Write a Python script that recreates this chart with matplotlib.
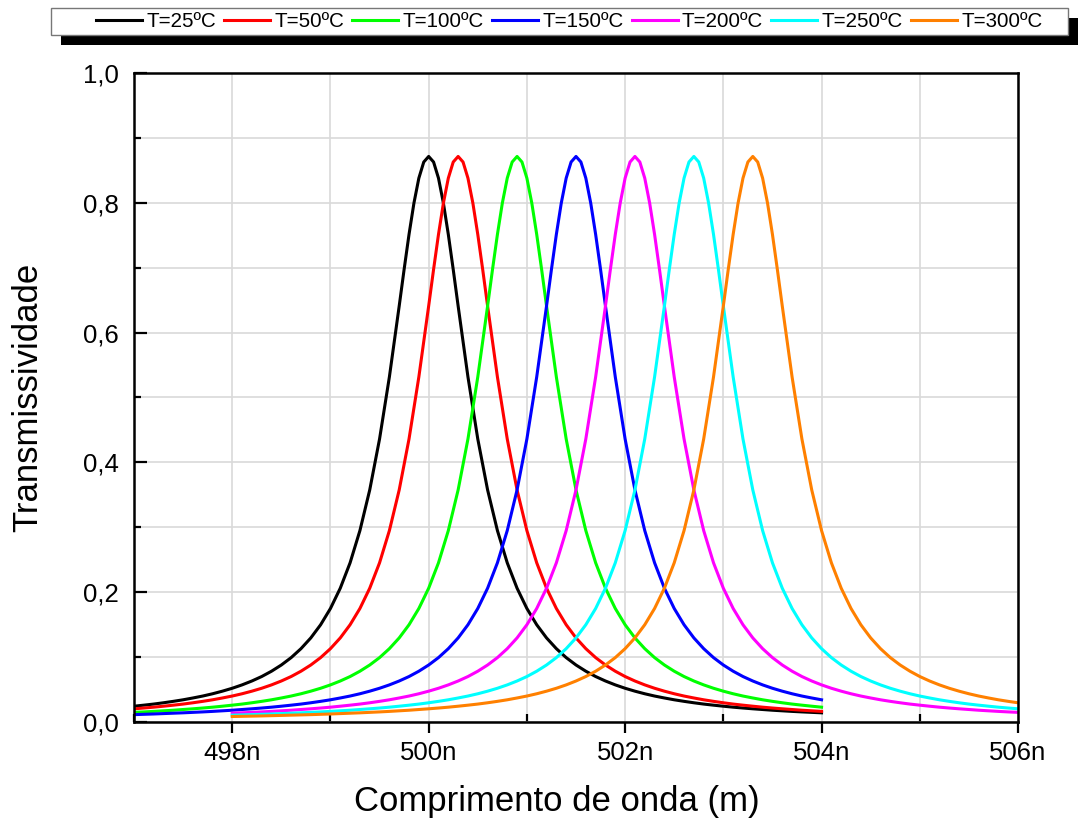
import numpy as np
import matplotlib.pyplot as plt
from matplotlib.patches import Rectangle
from matplotlib.ticker import MultipleLocator

plt.rcParams['font.family'] = ['Liberation Sans', 'DejaVu Sans']


def malha(a, b, passo=0.1):
    # pontos de leitura do comprimento de onda (nm)
    return np.round(np.arange(a, b + passo / 2, passo), 2)


# comprimento de onda (nm) e transmissividade
wl_25 = np.r_[malha(497.0, 499.6), malha(499.7, 500.3, 0.05), malha(500.4, 504.0)]
tr_25 = [0.0236, 0.0252, 0.0269, 0.0289, 0.0311, 0.0335, 0.0363, 0.0393, 0.0428, 0.0468,
         0.0513, 0.0565, 0.0625, 0.0694, 0.0776, 0.0872, 0.0986, 0.1124, 0.1290, 0.1493,
         0.1744, 0.2057, 0.2449, 0.2946, 0.3574, 0.4360, 0.5317,
         0.6412, 0.6976, 0.7517, 0.8000, 0.8385, 0.8634, 0.872, 0.8634, 0.8385, 0.8000, 0.7517, 0.6976, 0.6412,
         0.5317, 0.4360, 0.3574, 0.2946, 0.2449, 0.2057, 0.1744, 0.1493, 0.1290, 0.1124,
         0.0986, 0.0872, 0.0776, 0.0694, 0.0625, 0.0565, 0.0513, 0.0468, 0.0428, 0.0393,
         0.0363, 0.0335, 0.0311, 0.0289, 0.0269, 0.0252, 0.0236, 0.0221, 0.0208, 0.0196,
         0.0185, 0.0174, 0.0165, 0.0156, 0.0148, 0.0141, 0.0134]

wl_50 = np.r_[malha(497.0, 499.9), malha(500.0, 500.6, 0.05), malha(500.7, 504.0)]
tr_50 = [0.0196, 0.0208, 0.0221,
         0.0236, 0.0252, 0.0269, 0.0289, 0.0311, 0.0335, 0.0363, 0.0393, 0.0428, 0.0468,
         0.0513, 0.0565, 0.0625, 0.0694, 0.0776, 0.0872, 0.0986, 0.1124, 0.1290, 0.1493,
         0.1744, 0.2057, 0.2449, 0.2946, 0.3574, 0.4360, 0.5317,
         0.6412, 0.6976, 0.7517, 0.8000, 0.8385, 0.8634, 0.872, 0.8634, 0.8385, 0.8000, 0.7517, 0.6976, 0.6412,
         0.5317, 0.4360, 0.3574, 0.2946, 0.2449, 0.2057, 0.1744, 0.1493, 0.1290, 0.1124,
         0.0986, 0.0872, 0.0776, 0.0694, 0.0625, 0.0565, 0.0513, 0.0468, 0.0428, 0.0393,
         0.0363, 0.0335, 0.0311, 0.0289, 0.0269, 0.0252, 0.0236, 0.0221, 0.0208, 0.0196,
         0.0185, 0.0174, 0.0165, 0.0156]

wl_100 = np.r_[malha(497.0, 500.5), malha(500.6, 501.2, 0.05), malha(501.3, 504.0)]
tr_100 = [0.0141, 0.0148, 0.0156, 0.0165, 0.0174, 0.0185, 0.0196, 0.0208, 0.0221,
          0.0236, 0.0252, 0.0269, 0.0289, 0.0311, 0.0335, 0.0363, 0.0393, 0.0428, 0.0468,
          0.0513, 0.0565, 0.0625, 0.0694, 0.0776, 0.0872, 0.0986, 0.1124, 0.1290, 0.1493,
          0.1744, 0.2057, 0.2449, 0.2946, 0.3574, 0.4360, 0.5317,
          0.6412, 0.6976, 0.7517, 0.8000, 0.8385, 0.8634, 0.872, 0.8634, 0.8385, 0.8000, 0.7517, 0.6976, 0.6412,
          0.5317, 0.4360, 0.3574, 0.2946, 0.2449, 0.2057, 0.1744, 0.1493, 0.1290, 0.1124,
          0.0986, 0.0872, 0.0776, 0.0694, 0.0625, 0.0565, 0.0513, 0.0468, 0.0428, 0.0393,
          0.0363, 0.0335, 0.0311, 0.0289, 0.0269, 0.0252, 0.0236, 0.0221]

wl_150 = np.r_[malha(497.0, 501.1), malha(501.2, 501.8, 0.05), malha(501.9, 504.0)]
tr_150 = [0.0106, 0.0111, 0.0116, 0.0122, 0.0128, 0.0134,
          0.0141, 0.0148, 0.0156, 0.0165, 0.0174, 0.0185, 0.0196, 0.0208, 0.0221,
          0.0236, 0.0252, 0.0269, 0.0289, 0.0311, 0.0335, 0.0363, 0.0393, 0.0428, 0.0468,
          0.0513, 0.0565, 0.0625, 0.0694, 0.0776, 0.0872, 0.0986, 0.1124, 0.1290, 0.1493,
          0.1744, 0.2057, 0.2449, 0.2946, 0.3574, 0.4360, 0.5317,
          0.6412, 0.6976, 0.7517, 0.8000, 0.8385, 0.8634, 0.872, 0.8634, 0.8385, 0.8000, 0.7517, 0.6976, 0.6412,
          0.5317, 0.4360, 0.3574, 0.2946, 0.2449, 0.2057, 0.1744, 0.1493, 0.1290, 0.1124,
          0.0986, 0.0872, 0.0776, 0.0694, 0.0625, 0.0565, 0.0513, 0.0468, 0.0428, 0.0393,
          0.0363, 0.0335]

wl_200 = np.r_[malha(498.0, 501.7), malha(501.8, 502.4, 0.05), malha(502.5, 506.0)]
tr_200 = [0.0128, 0.0134,
          0.0141, 0.0148, 0.0156, 0.0165, 0.0174, 0.0185, 0.0196, 0.0208, 0.0221,
          0.0236, 0.0252, 0.0269, 0.0289, 0.0311, 0.0335, 0.0363, 0.0393, 0.0428, 0.0468,
          0.0513, 0.0565, 0.0625, 0.0694, 0.0776, 0.0872, 0.0986, 0.1124, 0.1290, 0.1493,
          0.1744, 0.2057, 0.2449, 0.2946, 0.3574, 0.4360, 0.5317,
          0.6412, 0.6976, 0.7517, 0.8000, 0.8385, 0.8634, 0.872, 0.8634, 0.8385, 0.8000, 0.7517, 0.6976, 0.6412,
          0.5317, 0.4360, 0.3574, 0.2946, 0.2449, 0.2057, 0.1744, 0.1493, 0.1290, 0.1124,
          0.0986, 0.0872, 0.0776, 0.0694, 0.0625, 0.0565, 0.0513, 0.0468, 0.0428, 0.0393,
          0.0363, 0.0335, 0.0311, 0.0289, 0.0269, 0.0252, 0.0236, 0.0221, 0.0208, 0.0196,
          0.0185, 0.0174, 0.0165, 0.0156, 0.0148, 0.0141]

wl_250 = np.r_[malha(498.0, 502.3), malha(502.4, 503.0, 0.05), malha(503.1, 506.0)]
tr_250 = [0.0098, 0.0102, 0.0106, 0.0111, 0.0116, 0.0122, 0.0128, 0.0134,
          0.0141, 0.0148, 0.0156, 0.0165, 0.0174, 0.0185, 0.0196, 0.0208, 0.0221,
          0.0236, 0.0252, 0.0269, 0.0289, 0.0311, 0.0335, 0.0363, 0.0393, 0.0428, 0.0468,
          0.0513, 0.0565, 0.0625, 0.0694, 0.0776, 0.0872, 0.0986, 0.1124, 0.1290, 0.1493,
          0.1744, 0.2057, 0.2449, 0.2946, 0.3574, 0.4360, 0.5317,
          0.6412, 0.6976, 0.7517, 0.8000, 0.8385, 0.8634, 0.872, 0.8634, 0.8385, 0.8000, 0.7517, 0.6976, 0.6412,
          0.5317, 0.4360, 0.3574, 0.2946, 0.2449, 0.2057, 0.1744, 0.1493, 0.1290, 0.1124,
          0.0986, 0.0872, 0.0776, 0.0694, 0.0625, 0.0565, 0.0513, 0.0468, 0.0428, 0.0393,
          0.0363, 0.0335, 0.0311, 0.0289, 0.0269, 0.0252, 0.0236, 0.0221, 0.0208, 0.0196]

wl_300 = np.r_[malha(498.0, 502.9), malha(503.0, 503.6, 0.05), malha(503.7, 506.0)]
tr_300 = [0.0077, 0.0080, 0.0083, 0.0086, 0.0090, 0.0094,
          0.0098, 0.0102, 0.0106, 0.0111, 0.0116, 0.0122, 0.0128, 0.0134,
          0.0141, 0.0148, 0.0156, 0.0165, 0.0174, 0.0185, 0.0196, 0.0208, 0.0221,
          0.0236, 0.0252, 0.0269, 0.0289, 0.0311, 0.0335, 0.0363, 0.0393, 0.0428, 0.0468,
          0.0513, 0.0565, 0.0625, 0.0694, 0.0776, 0.0872, 0.0986, 0.1124, 0.1290, 0.1493,
          0.1744, 0.2057, 0.2449, 0.2946, 0.3574, 0.4360, 0.5317,
          0.6412, 0.6976, 0.7517, 0.8000, 0.8385, 0.8634, 0.872, 0.8634, 0.8385, 0.8000, 0.7517, 0.6976, 0.6412,
          0.5317, 0.4360, 0.3574, 0.2946, 0.2449, 0.2057, 0.1744, 0.1493, 0.1290, 0.1124,
          0.0986, 0.0872, 0.0776, 0.0694, 0.0625, 0.0565, 0.0513, 0.0468, 0.0428, 0.0393,
          0.0363, 0.0335, 0.0311, 0.0289]

series = [(wl_25, tr_25), (wl_50, tr_50), (wl_100, tr_100), (wl_150, tr_150),
          (wl_200, tr_200), (wl_250, tr_250), (wl_300, tr_300)]
labels = ['T=25ºC', 'T=50ºC', 'T=100ºC', 'T=150ºC', 'T=200ºC', 'T=250ºC', 'T=300ºC']
cores = ['#000000', '#ff0000', '#00ff00', '#0000ff', '#ff00ff', '#00ffff', '#ff8000']

x_ticks = [498, 500, 502, 504, 506]
y_ticks = [0.0, 0.2, 0.4, 0.6, 0.8, 1.0]

W, H = 1079, 821
fig = plt.figure(figsize=(W / 100, H / 100), dpi=100)
ax = fig.add_axes([134 / W, 1 - 721.5 / H, 884 / W, 648 / H])

for (wl, tr), lab, c in zip(series, labels, cores):
    ax.plot(wl, tr, color=c, lw=2.2, label=lab, solid_joinstyle='round')

ax.set_xlim(497, 506)
ax.set_ylim(0, 1.0)
ax.set_xticks(x_ticks)
ax.set_xticklabels([f'{v}n' for v in x_ticks])
ax.xaxis.set_minor_locator(MultipleLocator(1))
ax.set_yticks(y_ticks)
ax.set_yticklabels([f'{v:.1f}'.replace('.', ',') for v in y_ticks])
ax.yaxis.set_minor_locator(MultipleLocator(0.1))

ax.grid(True, which='both', color='#d9d9d9', lw=1.2)
ax.set_axisbelow(True)
for s in ax.spines.values():
    s.set_linewidth(1.8)

ax.tick_params(axis='x', which='major', direction='out', length=8, width=1.6,
               labelsize=18.5, pad=6)
ax.tick_params(axis='x', which='minor', direction='in', length=6, width=1.6)
ax.tick_params(axis='y', which='major', direction='in', length=9, width=1.6,
               labelsize=18.5, pad=11)
ax.tick_params(axis='y', which='minor', direction='in', length=5, width=1.6)

fig.text(557 / W, 1 - 801 / H, 'Comprimento de onda (m)', fontsize=25,
         ha='center', va='center')
fig.text(28 / W, 1 - 397 / H, 'Transmissividade', fontsize=25, rotation=90,
         ha='center', va='center')

# caixa da legenda com sombra
fig.patches.append(Rectangle((61 / W, 1 - 45 / H), 1017 / W, 27 / H,
                             transform=fig.transFigure, facecolor='black',
                             edgecolor='none', zorder=1))
fig.patches.append(Rectangle((51 / W, 1 - 35 / H), 1017 / W, 27 / H,
                             transform=fig.transFigure, facecolor='white',
                             edgecolor='#777777', lw=1.0, zorder=2))

handles, labs = ax.get_legend_handles_labels()
leg = fig.legend(handles, labs, loc='center left', bbox_to_anchor=(96 / W, 1 - 21.5 / H),
                 ncol=7, frameon=False, fontsize=14.8, handlelength=2.24,
                 handletextpad=0.2, columnspacing=0.4, borderpad=0, borderaxespad=0)
leg.set_zorder(3)

fig.savefig('out.png', dpi=100)
